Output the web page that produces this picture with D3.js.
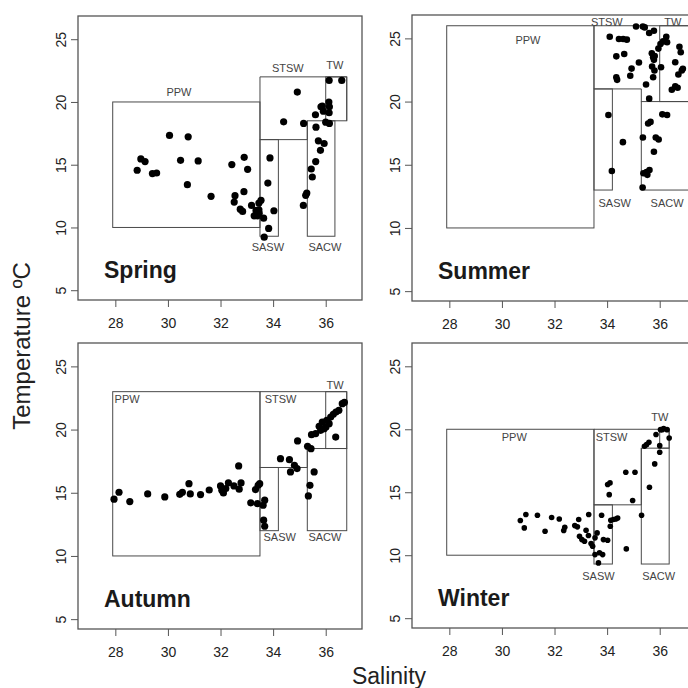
<!DOCTYPE html>
<html>
<head>
<meta charset="utf-8">
<script src="https://cdn.jsdelivr.net/npm/d3@7"></script>
<style>
  html, body { margin: 0; padding: 0; background: #fff; }
  svg { display: block; font-family: "Liberation Sans", Arial, sans-serif; }
</style>
</head>
<body>
<svg id="chart" width="688" height="688"></svg>
<script>
// ---------------- DATA ----------------
const seasons = ["Spring", "Summer", "Autumn", "Winter"];
const xTicks = [28, 30, 32, 34, 36];
const yTicks = [5, 10, 15, 20, 25];
const xTitle = "Salinity";
const yTitle = "Temperature ºC";

// [salinity, temperature]
const springPts = [
  [28.83,14.56],[28.97,15.46],[29.13,15.25],[29.41,14.29],[29.57,14.34],[30.06,17.33],
  [30.48,15.35],[30.77,17.22],[30.74,13.41],[31.15,15.30],[31.64,12.48],[32.43,15.01],
  [32.90,15.59],[33.03,14.63],[32.55,12.53],[32.52,12.02],[32.89,12.85],[32.75,11.46],
  [32.84,11.28],[33.18,11.76],[33.28,10.93],[33.40,10.93],[33.47,11.14],[33.46,11.94],
  [33.54,12.16],[33.46,11.41],[33.35,11.36],[33.64,10.74],[33.83,9.92],[33.66,9.23],
  [34.03,11.33],[33.80,13.54],[33.88,15.54],[34.40,18.42],[34.92,20.79],[35.16,18.29],
  [35.15,11.76],[35.24,12.56],[35.28,12.74],[35.45,14.66],[35.49,14.02],[35.62,15.25],
  [35.63,17.99],[35.61,18.98],[35.72,16.90],[35.80,16.15],[35.94,16.69],[35.82,19.62],
  [35.91,19.27],[36.00,18.39],[36.12,19.99],[36.14,19.62],[36.13,19.14],[36.14,18.29],
  [36.13,21.72],[36.61,21.72],[35.87,19.67]
];
const summerPts = [
  [34.10,25.13],[34.45,24.95],[34.61,24.95],[34.75,24.90],[34.35,23.58],[34.65,23.77],
  [34.35,21.93],[34.38,21.72],[34.93,22.61],[34.88,22.04],[35.21,23.09],[35.10,25.94],
  [35.36,25.94],[35.43,25.87],[35.60,25.42],[35.78,25.60],[35.48,21.35],[35.60,20.23],
  [35.70,23.82],[35.75,23.51],[35.78,23.30],[35.71,22.77],[35.80,22.46],[35.75,21.93],
  [35.81,23.61],[35.95,24.19],[36.03,24.55],[36.13,24.76],[36.25,25.13],[36.28,24.69],
  [36.05,22.72],[36.59,23.11],[36.75,24.34],[36.80,23.90],[36.71,22.14],[36.84,22.46],
  [36.46,20.94],[36.59,21.20],[36.68,21.09],[36.88,22.59],[34.05,18.94],[34.60,16.79],
  [34.18,14.51],[36.10,18.99],[36.28,18.94],[35.56,18.26],[35.65,18.39],[35.36,17.16],
  [35.85,17.16],[35.96,17.00],[35.78,16.03],[35.38,14.33],[35.53,14.20],[35.61,14.59],
  [35.35,13.20],[35.50,14.43]
];
const autumnPts = [
  [27.95,14.49],[28.14,15.04],[28.55,14.30],[29.23,14.91],[29.88,14.67],[30.45,14.88],
  [30.55,15.04],[30.80,15.72],[30.85,14.91],[31.24,14.86],[31.57,15.22],[32.00,15.54],
  [32.05,15.20],[32.11,14.99],[32.20,15.33],[32.30,15.78],[32.51,15.54],[32.69,17.12],
  [32.78,15.78],[32.71,15.28],[33.15,14.20],[33.33,15.25],[33.40,14.14],[33.43,15.59],
  [33.49,15.72],[33.62,14.01],[33.68,14.41],[33.64,12.83],[33.68,12.35],[34.28,17.70],
  [34.62,17.62],[34.66,16.65],[34.81,17.17],[34.91,16.91],[34.93,19.10],[35.31,18.68],
  [35.44,18.49],[35.34,14.75],[35.40,15.59],[35.56,16.65],[35.46,19.60],[35.62,19.68],
  [35.75,20.26],[35.87,20.60],[35.94,20.07],[36.04,20.73],[36.13,20.47],[36.19,20.99],
  [36.29,21.21],[36.39,21.39],[36.38,19.41],[36.63,22.05],[36.71,22.15],[35.81,19.94],
  [36.01,20.20],[36.50,21.52]
];
const winterPts = [
  [30.70,12.75],[30.85,12.17],[30.91,13.23],[31.35,13.17],[31.64,11.90],[31.89,12.99],
  [32.18,12.88],[32.35,11.96],[32.39,12.22],[32.77,12.35],[32.92,12.83],[32.87,12.25],
  [32.95,11.51],[33.04,11.24],[33.14,11.11],[33.20,11.98],[33.30,13.23],[33.29,11.56],
  [33.39,10.93],[33.45,10.71],[33.54,11.38],[33.62,11.77],[33.54,10.05],[33.71,10.19],
  [33.83,10.05],[33.67,9.39],[33.79,13.17],[33.86,11.24],[34.02,11.19],[34.08,14.81],
  [34.02,15.61],[34.11,15.74],[34.14,12.78],[34.24,12.83],[34.33,12.88],[34.40,12.96],
  [34.12,12.30],[34.73,10.50],[34.71,16.59],[35.06,16.59],[34.97,14.34],[35.31,13.17],
  [35.42,18.65],[35.50,18.78],[35.59,18.97],[35.61,15.40],[35.81,17.25],[35.86,19.58],
  [36.03,19.97],[36.15,20.05],[36.28,19.97],[36.00,18.70],[36.00,18.17],[36.36,19.31],
  [36.09,19.97]
];

// water mass boxes: [name, sMin, sMax, tMin, tMax]
const springMasses = [
  ["PPW", 27.9, 33.5, 10, 20], ["STSW", 33.5, 36.8, 17, 22], ["TW", 36.0, 36.8, 18.5, 22],
  ["SASW", 33.5, 34.2, 9.3, 17], ["SACW", 35.3, 36.35, 9.3, 18.5]
];
const summerMasses = [
  ["PPW", 27.9, 33.5, 10, 26], ["STSW", 33.5, 37.3, 21, 26], ["TW", 36.0, 37.3, 20, 26],
  ["SASW", 33.5, 34.2, 13, 21], ["SACW", 35.3, 37.3, 13, 20]
];
const autumnMasses = [
  ["PPW", 27.9, 33.5, 10, 23], ["STSW", 33.5, 36.8, 17, 23], ["TW", 36.0, 36.8, 18.5, 23],
  ["SASW", 33.5, 34.2, 12, 17], ["SACW", 35.3, 36.8, 12, 18.5]
];
const winterMasses = [
  ["PPW", 27.9, 33.5, 10, 20], ["STSW", 33.5, 36.36, 14, 20], ["TW", 36.0, 36.36, 18.5, 20],
  ["SASW", 33.5, 34.2, 9.3, 14], ["SACW", 35.3, 36.36, 9.3, 18.5]
];

// label anchor points: [name, salinity, temperature, anchor]
const springLabels = [
  ["PPW", 30.42, 20.77, "middle"], ["STSW", 34.56, 22.69, "middle"], ["TW", 36.35, 22.93, "middle"],
  ["SASW", 33.80, 8.41, "middle"], ["SACW", 35.97, 8.41, "middle"]
];
const summerLabels = [
  ["PPW", 30.99, 24.90, "middle"], ["STSW", 33.99, 26.26, "middle"], ["TW", 36.50, 26.26, "middle"],
  ["SASW", 34.29, 11.98, "middle"], ["SACW", 36.28, 11.98, "middle"]
];
const autumnLabels = [
  ["PPW", 27.97, 22.39, "start"], ["STSW", 33.68, 22.39, "start"], ["TW", 36.36, 23.5, "middle"],
  ["SASW", 34.25, 11.48, "middle"], ["SACW", 35.97, 11.48, "middle"]
];
const winterLabels = [
  ["PPW", 30.47, 19.38, "middle"], ["STSW", 34.17, 19.38, "middle"], ["TW", 36.0, 20.97, "middle"],
  ["SASW", 33.67, 8.35, "middle"], ["SACW", 35.96, 8.35, "middle"]
];

const xDomain = [26.58, 37.38];
const yDomain = [4.22, 26.85];

// ---------------- LAYOUT ----------------
const panels = [
  { name: seasons[0], pts: springPts, masses: springMasses, labels: springLabels, box: [78, 16, 362, 300], r: 3.6 },
  { name: seasons[1], pts: summerPts, masses: summerMasses, labels: summerLabels, box: [412, 15, 696, 301], r: 3.3 },
  { name: seasons[2], pts: autumnPts, masses: autumnMasses, labels: autumnLabels, box: [78, 343, 362, 629], r: 3.6 },
  { name: seasons[3], pts: winterPts, masses: winterMasses, labels: winterLabels, box: [412, 343, 696, 628], r: 2.8 }
];

const svg = d3.select("#chart");
const frameCol = "#555";
const boxCol = "#4a4a4a";
const textCol = "#222";

panels.forEach(p => {
  const [x0, y0, x1, y1] = p.box;
  const x = d3.scaleLinear().domain(xDomain).range([x0, x1]);
  const y = d3.scaleLinear().domain(yDomain).range([y1, y0]);
  const g = svg.append("g");

  // water mass boxes
  const M = {};
  p.masses.forEach(m => M[m[0]] = { s0: m[1], s1: m[2], t0: m[3], t1: m[4] });
  ["PPW", "SASW", "SACW", "TW"].forEach(k => {
    const b = M[k];
    g.append("rect")
      .attr("x", x(b.s0)).attr("y", y(b.t1))
      .attr("width", x(b.s1) - x(b.s0)).attr("height", y(b.t0) - y(b.t1))
      .attr("fill", "none").attr("stroke", boxCol).attr("stroke-width", 1);
  });
  const st = M["STSW"];
  const line = d3.line();
  g.append("path")
    .attr("d", line([
      [x(M.SACW.s0), y(M.SACW.t1)], [x(M.SACW.s0), y(st.t0)], [x(st.s0), y(st.t0)],
      [x(st.s0), y(st.t1)], [x(st.s1), y(st.t1)], [x(st.s1), y(M.TW.t0)]
    ]))
    .attr("fill", "none").attr("stroke", boxCol).attr("stroke-width", 1);

  // water mass labels
  g.selectAll("text.wm").data(p.labels).join("text")
    .attr("class", "wm")
    .attr("x", d => x(d[1])).attr("y", d => y(d[2]))
    .attr("text-anchor", d => d[3])
    .attr("dominant-baseline", "central")
    .attr("font-size", 11).attr("fill", "#444")
    .text(d => d[0]);

  // points
  g.selectAll("circle").data(p.pts).join("circle")
    .attr("cx", d => x(d[0])).attr("cy", d => y(d[1]))
    .attr("r", p.r).attr("fill", "#000");

  // frame
  g.append("rect")
    .attr("x", x0).attr("y", y0).attr("width", x1 - x0).attr("height", y1 - y0)
    .attr("fill", "none").attr("stroke", frameCol).attr("stroke-width", 1.3);

  // axes
  const ax = g.append("g").attr("transform", `translate(0,${y1})`)
    .call(d3.axisBottom(x).tickValues(xTicks).tickSize(7).tickPadding(11).tickFormat(d3.format("d")));
  ax.select(".domain").remove();
  ax.selectAll("line").attr("stroke", frameCol);
  ax.selectAll("text").attr("font-size", 14).attr("fill", textCol).attr("font-family", null);

  const ay = g.append("g").attr("transform", `translate(${x0},0)`)
    .call(d3.axisLeft(y).tickValues(yTicks).tickSize(7).tickFormat(d3.format("d")));
  ay.select(".domain").remove();
  ay.selectAll("line").attr("stroke", frameCol);
  ay.selectAll("text")
    .attr("transform", "rotate(-90)")
    .attr("x", 0).attr("y", -12).attr("dy", null)
    .attr("text-anchor", "middle")
    .attr("font-size", 14).attr("fill", textCol).attr("font-family", null);

  // season title
  g.append("text")
    .attr("x", x0 + 26).attr("y", y1 - 22)
    .attr("font-size", 23).attr("font-weight", "bold").attr("fill", "#1a1a1a")
    .text(p.name);
});

// global axis titles
svg.append("text")
  .attr("transform", "translate(30,346) rotate(-90)")
  .attr("text-anchor", "middle")
  .attr("font-size", 24).attr("fill", textCol)
  .text(yTitle);
svg.append("text")
  .attr("x", 389).attr("y", 684)
  .attr("text-anchor", "middle")
  .attr("font-size", 23).attr("fill", textCol)
  .text(xTitle);
</script>
</body>
</html>
